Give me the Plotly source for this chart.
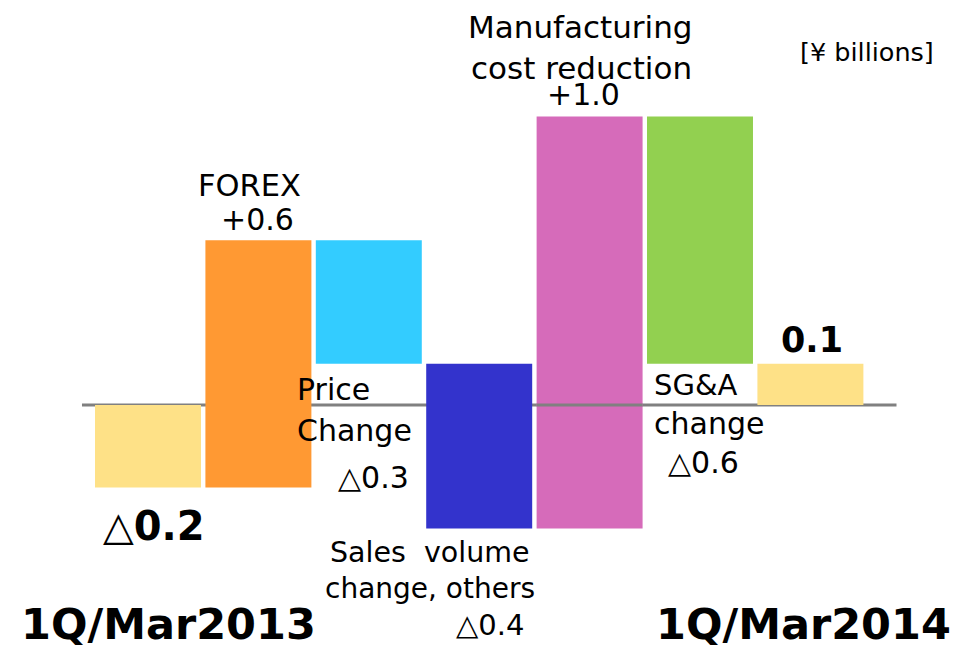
import plotly.graph_objects as go

# ---- data ----
categories = ["1Q/Mar2013", "FOREX", "Price Change", "Sales volume change, others",
              "Manufacturing cost reduction", "SG&A change", "1Q/Mar2014"]
values = [-0.2, 0.6, -0.3, -0.4, 1.0, -0.6, 0.1]
kinds = ["total", "relative", "relative", "relative", "relative", "relative", "total"]
colors = ["#FEE187", "#FF9933", "#33CCFF", "#3333CC", "#D66BBA", "#92D050", "#FEE187"]

# waterfall bases
bases = []
running = 0.0
for v, k in zip(values, kinds):
    if k == "total":
        bases.append(0.0)
        running = v
    else:
        bases.append(running)
        running += v

xs = list(range(len(categories)))

PAGE_W, PAGE_H = 973, 648
OFF = 8  # default page body margin
W, H = PAGE_W - OFF, PAGE_H - OFF

def px(x, y):
    return (x - OFF) / W, 1 - (y - OFF) / H

fig = go.Figure()
fig.add_trace(go.Bar(
    x=xs, y=values, base=bases, width=0.96,
    marker=dict(color=colors, line=dict(width=0)),
    hoverinfo="skip", showlegend=False,
))

FONT = "DejaVu Sans"
ann = []
def add(text, x, y, size, bold=False, xanchor="center"):
    ax, ay = px(x, y)
    t = f"<b>{text}</b>" if bold else text
    ann.append(dict(text=t, x=ax, y=ay, xref="paper", yref="paper",
                    xanchor=xanchor, yanchor="middle", showarrow=False,
                    font=dict(family=FONT, size=size, color="#000000")))

add("△0.2", 154, 526, 40, bold=True)
add("FOREX", 249, 186, 30.5)
add("+0.6", 258, 219, 30)
add("Price", 295, 389, 30, xanchor="left")
add("Change", 295, 430, 30, xanchor="left")
add("△0.3", 411, 477, 30, xanchor="right")
add("Sales  volume", 430, 552, 28.5)
add("change, others", 430, 588, 28)
add("△0.4", 490, 625, 29)
add("Manufacturing", 580, 27, 31)
add("cost reduction", 581, 68, 31)
add("+1.0", 583, 94, 30)
add("[¥ billions]", 867, 52, 25.5)
add("0.1", 812, 340, 35, bold=True)
add("SG&A", 652, 385, 29, xanchor="left")
add("change", 652, 423, 30, xanchor="left")
add("△0.6", 703, 462, 30)
add("1Q/Mar2013", 168, 624, 43, bold=True)
add("1Q/Mar2014", 803, 624, 43, bold=True)

x_per_px = 1 / 110.4
xr0 = (OFF - 148) * x_per_px
xr1 = (PAGE_W - 148) * x_per_px
y_per_px = 0.1 / 41.2
yr1 = (405 - OFF) * y_per_px
yr0 = -(PAGE_H - 405) * y_per_px

fig.update_layout(
    width=W, height=H, autosize=False,
    margin=dict(l=0, r=0, t=0, b=0),
    paper_bgcolor="white", plot_bgcolor="white",
    xaxis=dict(range=[xr0, xr1], visible=False, fixedrange=True),
    yaxis=dict(range=[yr0, yr1], visible=False, fixedrange=True),
    annotations=ann,
    shapes=[
        dict(type="line", xref="x", yref="y", x0=-0.598, x1=6.78, y0=0, y1=0,
             line=dict(color="#808080", width=3), layer="below"),
        dict(type="line", xref="x", yref="y", x0=4 - 0.48, x1=4 + 0.48, y0=0, y1=0,
             line=dict(color="#808080", width=3), layer="above"),
    ],
)

fig.write_html("out.html")
